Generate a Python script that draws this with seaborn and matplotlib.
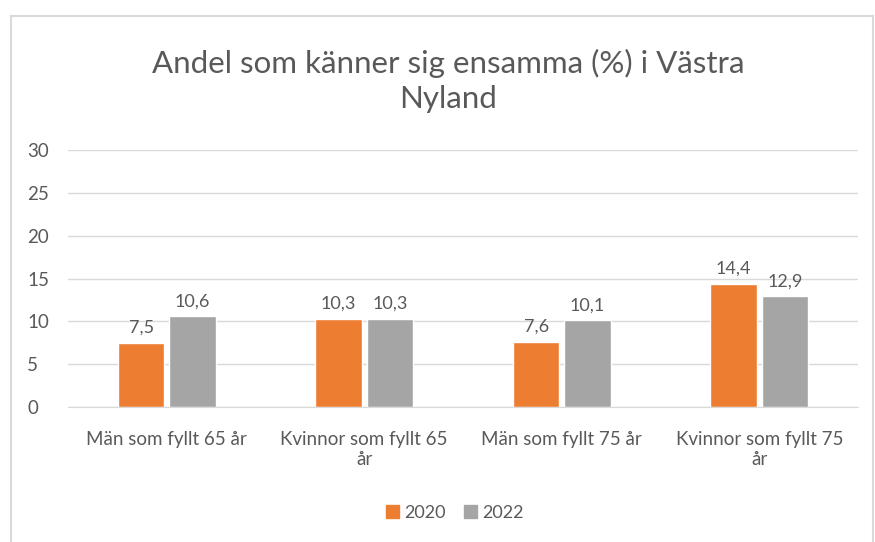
import matplotlib
matplotlib.use('Agg')

import pandas as pd
import seaborn as sns
import matplotlib.pyplot as plt
from matplotlib.patches import Rectangle

categories = ['Män som fyllt 65 år', 'Kvinnor som fyllt 65\når',
              'Män som fyllt 75 år', 'Kvinnor som fyllt 75\når']
years = ['2020', '2022']
values_2020 = [7.5, 10.3, 7.6, 14.4]
values_2022 = [10.6, 10.3, 10.1, 12.9]

TEXT = '#595959'
GRID = '#D9D9D9'
COLORS = ['#ED7D31', '#A5A5A5']

df = pd.DataFrame({
    'Grupp': categories * 2,
    'År': [years[0]] * 4 + [years[1]] * 4,
    'Andel': values_2020 + values_2022,
})

sns.set_style('white')
plt.rcParams['font.family'] = ['Lato', 'DejaVu Sans']

fig = plt.figure(figsize=(8.75, 5.42), dpi=100)
ax = fig.add_axes([68 / 875, 1 - 407 / 542, 790 / 875, 257 / 542])

sns.barplot(data=df, x='Grupp', y='Andel', hue='År', palette=COLORS,
            width=0.52, gap=0.1, ax=ax, legend=False, saturation=1)

# value labels with decimal comma
for cont in ax.containers:
    labels = [('%.1f' % b.get_height()).replace('.', ',') for b in cont]
    ax.bar_label(cont, labels=labels, padding=5, color=TEXT, fontsize=13)

ax.set_ylim(0, 30)
ax.set_yticks(range(0, 31, 5))
ax.set_xlim(-0.5, 3.5)
ax.set_xlabel('')
ax.set_ylabel('')
ax.grid(axis='y', color=GRID, linewidth=1)
ax.set_axisbelow(True)
for s in ['top', 'right', 'left']:
    ax.spines[s].set_visible(False)
ax.spines['bottom'].set_color(GRID)
ax.tick_params(axis='both', length=0, colors=TEXT, labelsize=13.5)
ax.tick_params(axis='x', pad=17)
for lbl in ax.get_yticklabels():
    lbl.set_horizontalalignment('left')
ax.yaxis.set_tick_params(pad=29.5)
for lbl in ax.get_xticklabels():
    lbl.set_linespacing(1.25)

fig.text(0.512, 1 - 81 / 542, 'Andel som känner sig ensamma (%) i Västra\nNyland',
         ha='center', va='center', fontsize=22.5, color=TEXT, linespacing=1.3)

# legend
handles = [plt.Rectangle((0, 0), 1, 1, color=c) for c in COLORS]
fig.legend(handles, years, loc='center', bbox_to_anchor=(455 / 875, 1 - 513 / 542),
           ncol=2, frameon=False, fontsize=13, labelcolor=TEXT,
           handlelength=0.7, handleheight=0.7, handletextpad=0.3, columnspacing=1.0)

# chart frame
fig.patches.append(Rectangle((11 / 875, -0.05), 862 / 875, 1 - 16 / 542 + 0.05,
                             transform=fig.transFigure, fill=False,
                             edgecolor='#D9D9D9', linewidth=1.5))

fig.savefig('out.png', dpi=100)
